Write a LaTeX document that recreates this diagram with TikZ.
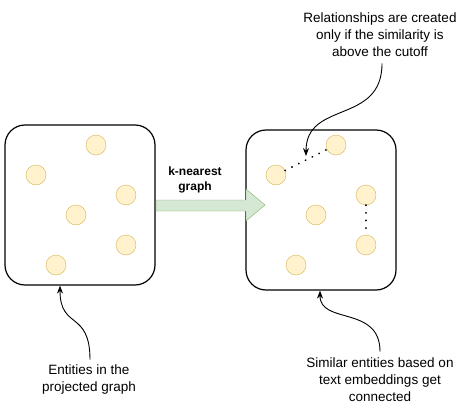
\documentclass[tikz,border=0pt]{standalone}
\usepackage{fontspec}
\setmainfont{Liberation Sans}
\usetikzlibrary{arrows.meta}
\definecolor{entfill}{HTML}{FFF2CC}
\definecolor{entdraw}{HTML}{D6B656}
\definecolor{knnfill}{HTML}{D5E8D4}
\definecolor{knndraw}{HTML}{82B366}
\begin{document}
\begin{tikzpicture}[x=1pt,y=-1pt,
  ent/.style={circle,draw=entdraw,fill=entfill,minimum size=20pt,inner sep=0pt},
  graphbox/.style={draw,fill=white,line width=1.2pt,rounded corners=20pt,minimum width=150pt,minimum height=160pt},
  note/.style={align=center,font=\fontsize{13.5}{17}\selectfont},
  link/.style={dash pattern=on 0.1pt off 7.5pt,line width=2pt,line cap=round},
  pointer/.style={-{Stealth[length=8pt,width=6pt]},line width=0.9pt}]
\useasboundingbox (0,0) rectangle (471,415);
% the two graphs
\node[graphbox] (proj) at (80,205) {};
\node[graphbox] (knn) at (321,210) {};
\foreach \n/\x/\y in {a/96/145,b/36/175,c/126/195,d/76/215,e/126/245,f/56/265}
  \node[ent] (p\n) at (\x,\y) {};
\foreach \n/\x/\y in {a/336/145,b/276/175,c/366/195,d/316/215,e/366/245,f/296/265}
  \node[ent] (k\n) at (\x,\y) {};
\draw[link] (kb) -- (ka);
\draw[link] (kc) -- (ke);
% big arrow
\filldraw[fill=knnfill,draw=knndraw] (156,200) -- (246,200) -- (246,189) -- (265,205)
  -- (246,221) -- (246,211) -- (156,211) -- cycle;
\node[font=\fontsize{12}{15}\selectfont\bfseries,align=center] (knnlbl) at (195,180) {k-nearest\\graph};
% notes
\node[note] (cutoff) at (380,35) {Relationships are created\\only if the similarity is\\above the cutoff};
\node[note] (entities) at (89,380) {Entities in the\\projected graph};
\node[note] (similar) at (380,380) {Similar entities based on\\text embeddings get\\connected};
\coordinate (cutoffend) at (306,156);
\draw[pointer] (cutoff.south) ++(2,3) .. controls (382,125) and (306,100) .. (cutoffend);
\draw[pointer] (entities.north) ++(1,-2) .. controls (90,310) and (60,330) .. (proj.south -| 60,0);
\draw[pointer] (similar.north) ++(0,-3) .. controls (380,305) and (320,325) .. (knn.south -| 320,0);
\end{tikzpicture}
\end{document}
